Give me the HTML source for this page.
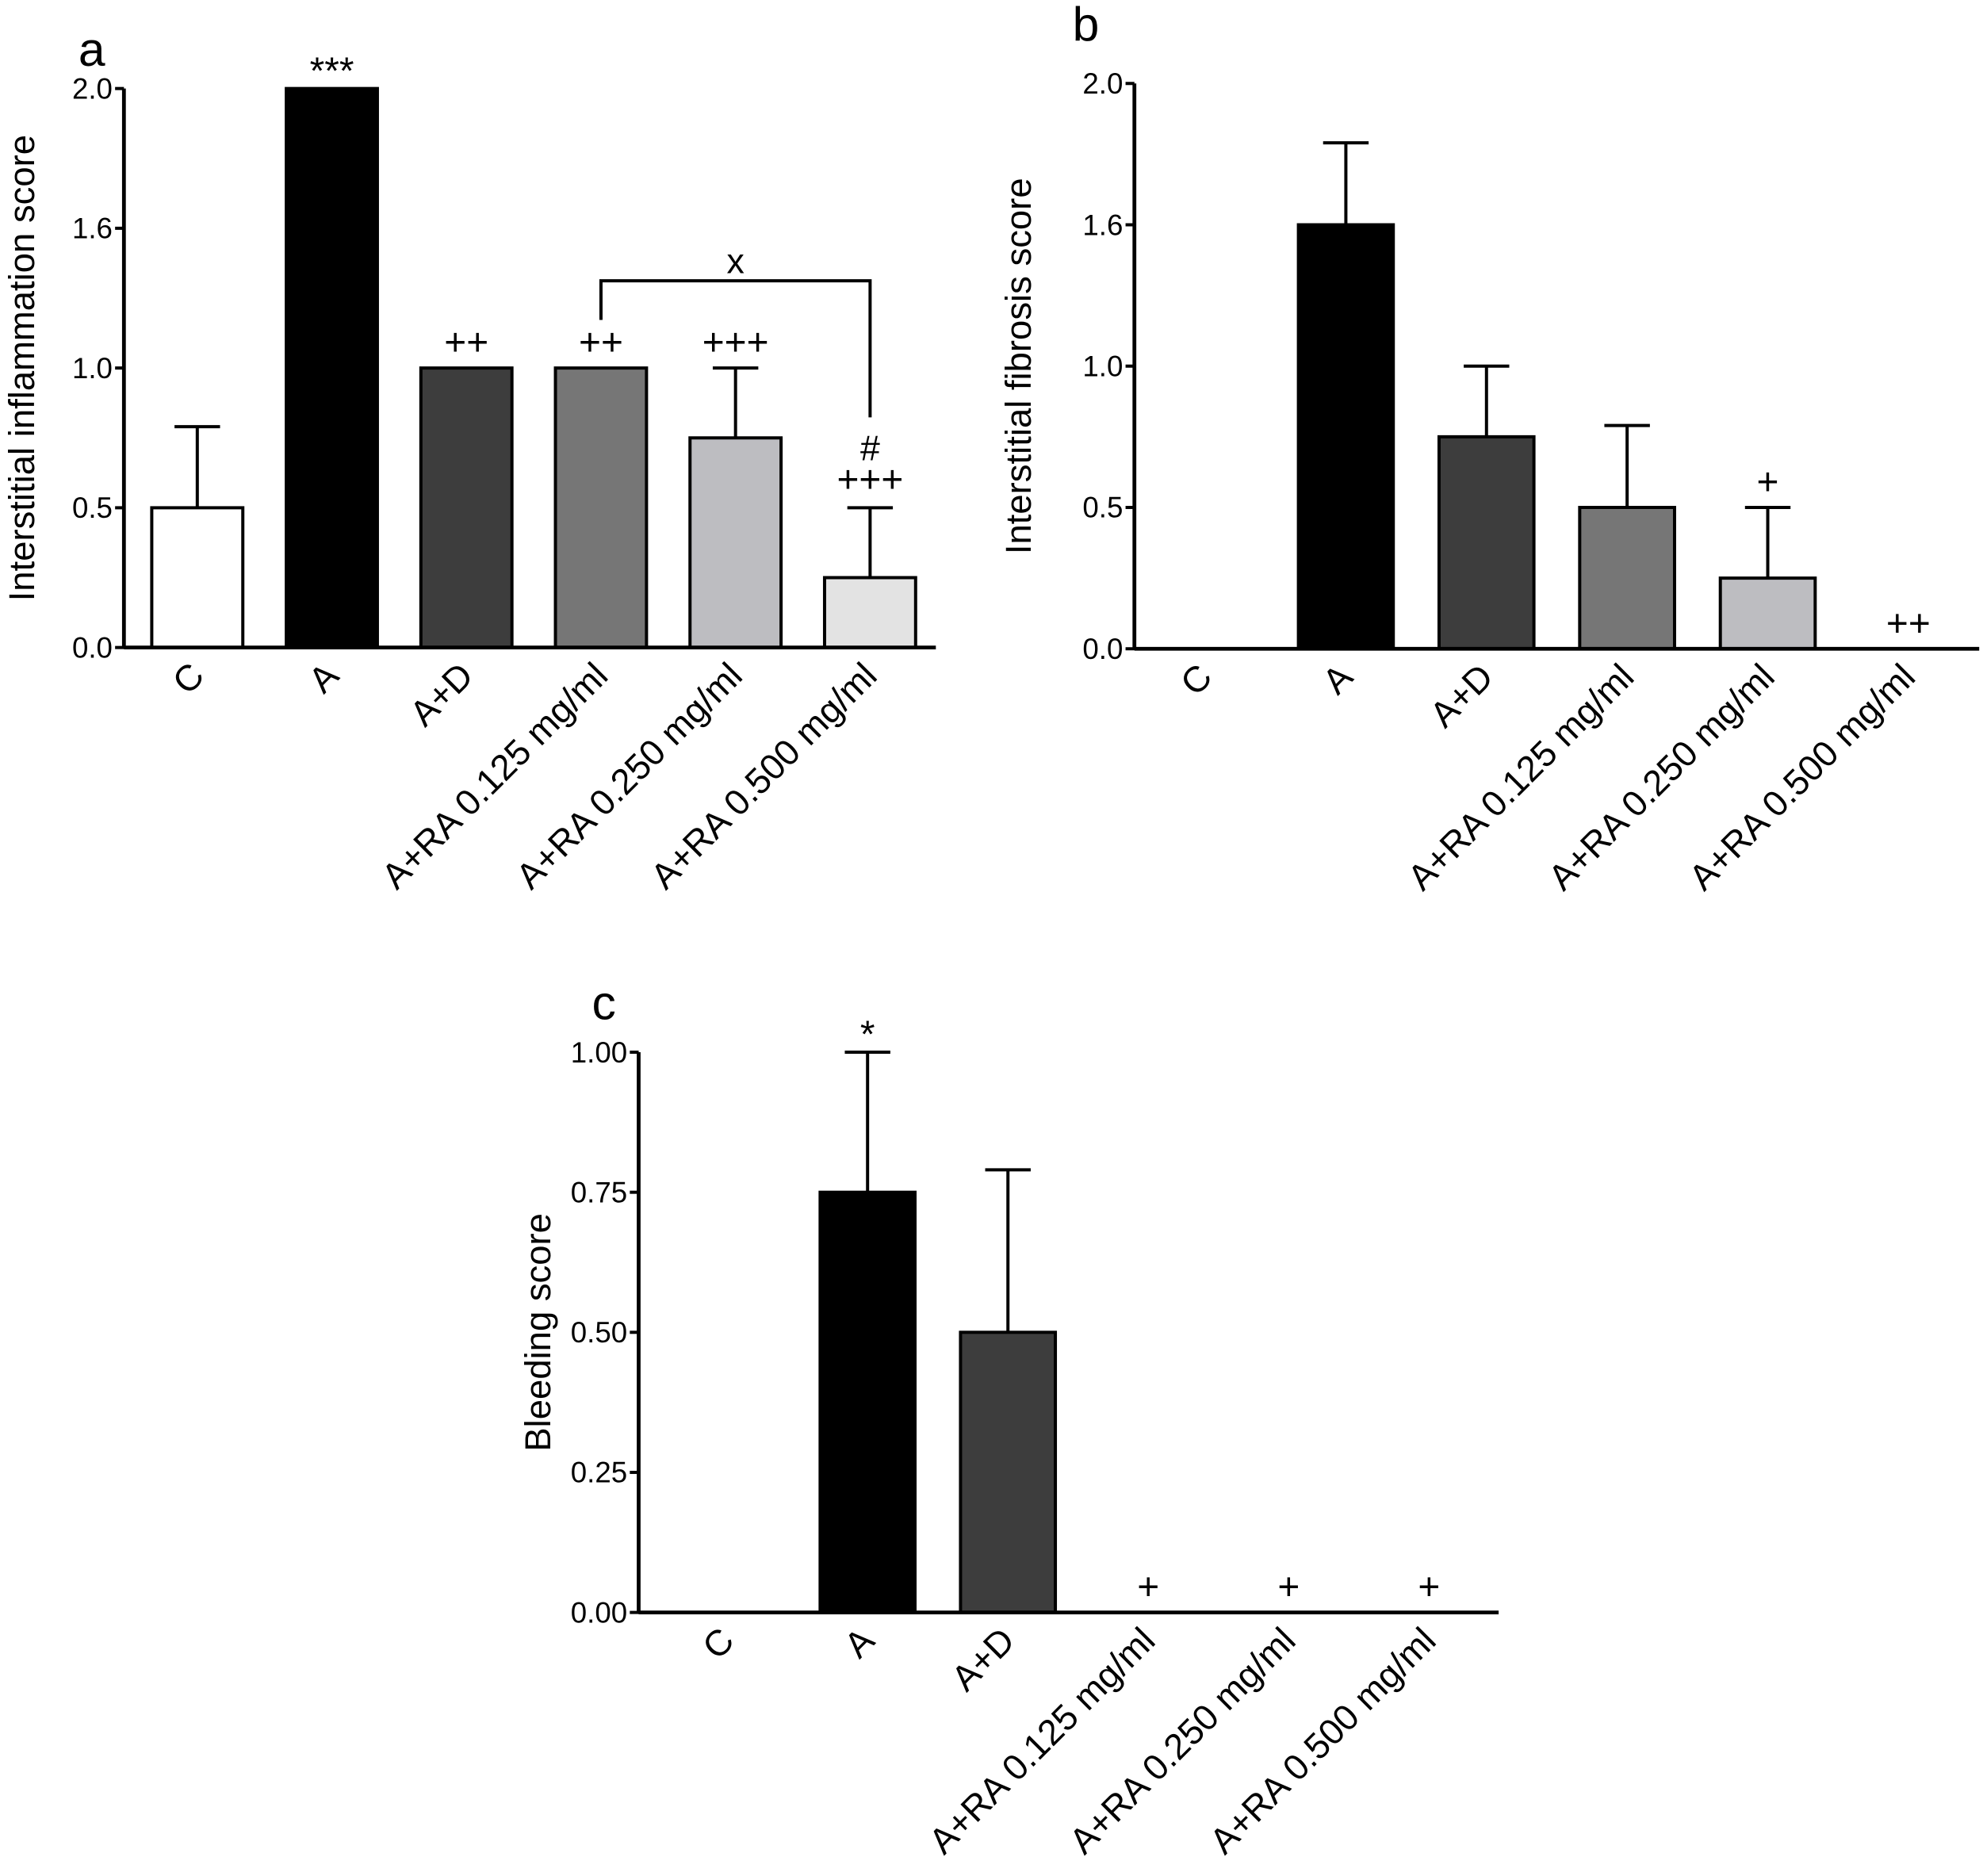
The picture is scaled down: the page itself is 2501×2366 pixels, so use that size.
<!DOCTYPE html>
<html><head><meta charset="utf-8"><style>
html,body{margin:0;padding:0;background:#fff}
svg{display:block}
text{font-family:"Liberation Sans",Arial,sans-serif;fill:#000}
.tick{font-family:"Liberation Sans Narrow","Liberation Sans",sans-serif;font-size:23px}
</style></head><body>
<svg id="chart" width="2501" height="2366" viewBox="0 0 1568 1483.4" preserveAspectRatio="none" xmlns="http://www.w3.org/2000/svg"></svg>
<script>
const categories = ["C","A","A+D","A+RA 0.125 mg/ml","A+RA 0.250 mg/ml","A+RA 0.500 mg/ml"];
const inflammationValues = [0.5,2.0,1.0,1.0,0.75,0.25];
const inflammationErrors = [0.29,0,0,0,0.25,0.25];
const inflammationMarks = ["","***","++","++","+++","+++"];
const fibrosisValues = [0,1.5,0.75,0.5,0.25,0];
const fibrosisErrors = [0,0.29,0.25,0.29,0.25,0];
const fibrosisMarks = ["","","","","+","++"];
const bleedingValues = [0,0.75,0.5,0,0,0];
const bleedingErrors = [0,0.25,0.29,0,0,0];
const bleedingMarks = ["","*","","+","+","+"];
const tickValsAB = [0,0.5,1.0,1.5,2.0];
const tickLabelsAB = ["0.0","0.5","1.0","1.6","2.0"];
const tickValsC = [0,0.25,0.5,0.75,1.0];
const tickLabelsC = ["0.00","0.25","0.50","0.75","1.00"];
const fills = ["#ffffff","#000000","#3d3d3d","#767676","#bdbdc1","#e3e3e3"];

const svg = document.getElementById('chart');
const NS = "http://www.w3.org/2000/svg";
function mk(tag, attrs, parent){const e=document.createElementNS(NS,tag);for(const k in attrs)e.setAttribute(k,attrs[k]);(parent||svg).appendChild(e);return e;}

function panel(p){
  const g = mk('g',{});
  
  
  const y = v => p.y0 - (v - 0)/(p.ymax) * (p.y0 - p.ytop);
  const x = i => p.c0 + i*p.step;
  const lt = mk('text',{x:p.lx,y:p.ly,'font-size':38},g); lt.textContent=p.id;
  
  
  p.vals.forEach((v,i)=>{
    const cx=x(i);
    if(v>0){
      if(p.errs[i]>0){
        const el=mk('line',{x1:cx,x2:cx,y1:y(v),y2:y(v+p.errs[i]),stroke:'#000','stroke-width':2.5},g);
        
        
        const cap=mk('line',{x1:cx-18,x2:cx+18,y1:y(v+p.errs[i]),y2:y(v+p.errs[i]),stroke:'#000','stroke-width':2.5},g);
        
        
      }
      const r=mk('rect',{x:cx-p.bw/2,y:y(v),width:p.bw,height:p.y0-y(v),fill:fills[i],stroke:'#000','stroke-width':2.5},g);
      
      
    }
    if(p.marks[i]){
      const top = y(v + p.errs[i]);
      const isStar = p.marks[i].includes('*');
      const t=mk('text',{x:cx,y:top-(isStar?4:10),'text-anchor':'middle','font-size':30},g);
      if(p.id==='a'&&i===5){t.setAttribute('y',top-12);}
      t.textContent=p.marks[i];
      
      
    }
    const ex=cx+7, ey=p.y0+24;
    const lbl=mk('text',{x:ex,y:ey,'text-anchor':'end','font-size':28.5,transform:`rotate(-45 ${ex} ${ey})`},g);
    lbl.textContent=categories[i];
    
    
  });
  const ya=mk('line',{x1:p.ax,x2:p.ax,y1:p.ytop,y2:p.y0+1,stroke:'#000','stroke-width':3},g);
  
  
  const xa=mk('line',{x1:p.ax,x2:p.xend,y1:p.y0,y2:p.y0,stroke:'#000','stroke-width':3},g);
  
  
  p.ticks.forEach((tv,i)=>{
    const tk=mk('line',{x1:p.ax-7,x2:p.ax,y1:y(tv),y2:y(tv),stroke:'#000','stroke-width':2.5},g);
    
    
    const tt=mk('text',{x:p.ax-9,y:y(tv)+8,'text-anchor':'end','class':'tick'},g);
    tt.textContent=p.tickLabels[i];
    
    
  });
  const yt=mk('text',{x:p.tx,y:(p.y0+p.ytop)/2,'text-anchor':'middle','font-size':28.5,transform:`rotate(-90 ${p.tx} ${(p.y0+p.ytop)/2})`},g);
  yt.textContent=p.title;
  
  
  return {g,x,y};
}

const A = panel({id:'a',lx:62,ly:52,ax:98,xend:740,y0:512,ytop:70,ymax:2,c0:156,step:106.4,bw:72,
  vals:inflammationValues,errs:inflammationErrors,marks:inflammationMarks,ticks:tickValsAB,tickLabels:tickLabelsAB,
  tx:27,title:"Interstitial inflammation score"});
const br=mk('polyline',{points:`${A.x(3)},253 ${A.x(3)},222 ${A.x(5)},222 ${A.x(5)},330`,fill:'none',stroke:'#000','stroke-width':2.5},A.g);


const bx=mk('text',{x:(A.x(3)+A.x(5))/2,y:216,'text-anchor':'middle','font-size':28},A.g);bx.textContent='x';


const hs=mk('text',{x:A.x(5),y:364,'text-anchor':'middle','font-size':28},A.g);hs.textContent='#';



panel({id:'b',lx:848,ly:32,ax:897,xend:1565,y0:513,ytop:66,ymax:2,c0:953,step:111.2,bw:75,
  vals:fibrosisValues,errs:fibrosisErrors,marks:fibrosisMarks,ticks:tickValsAB,tickLabels:tickLabelsAB,
  tx:815,title:"Interstitial fibrosis score"});

panel({id:'c',lx:468,ly:806,ax:505,xend:1185,y0:1275,ytop:832,ymax:1,c0:575,step:111,bw:75,
  vals:bleedingValues,errs:bleedingErrors,marks:bleedingMarks,ticks:tickValsC,tickLabels:tickLabelsC,
  tx:435,title:"Bleeding score"});
</script>
</body></html>
